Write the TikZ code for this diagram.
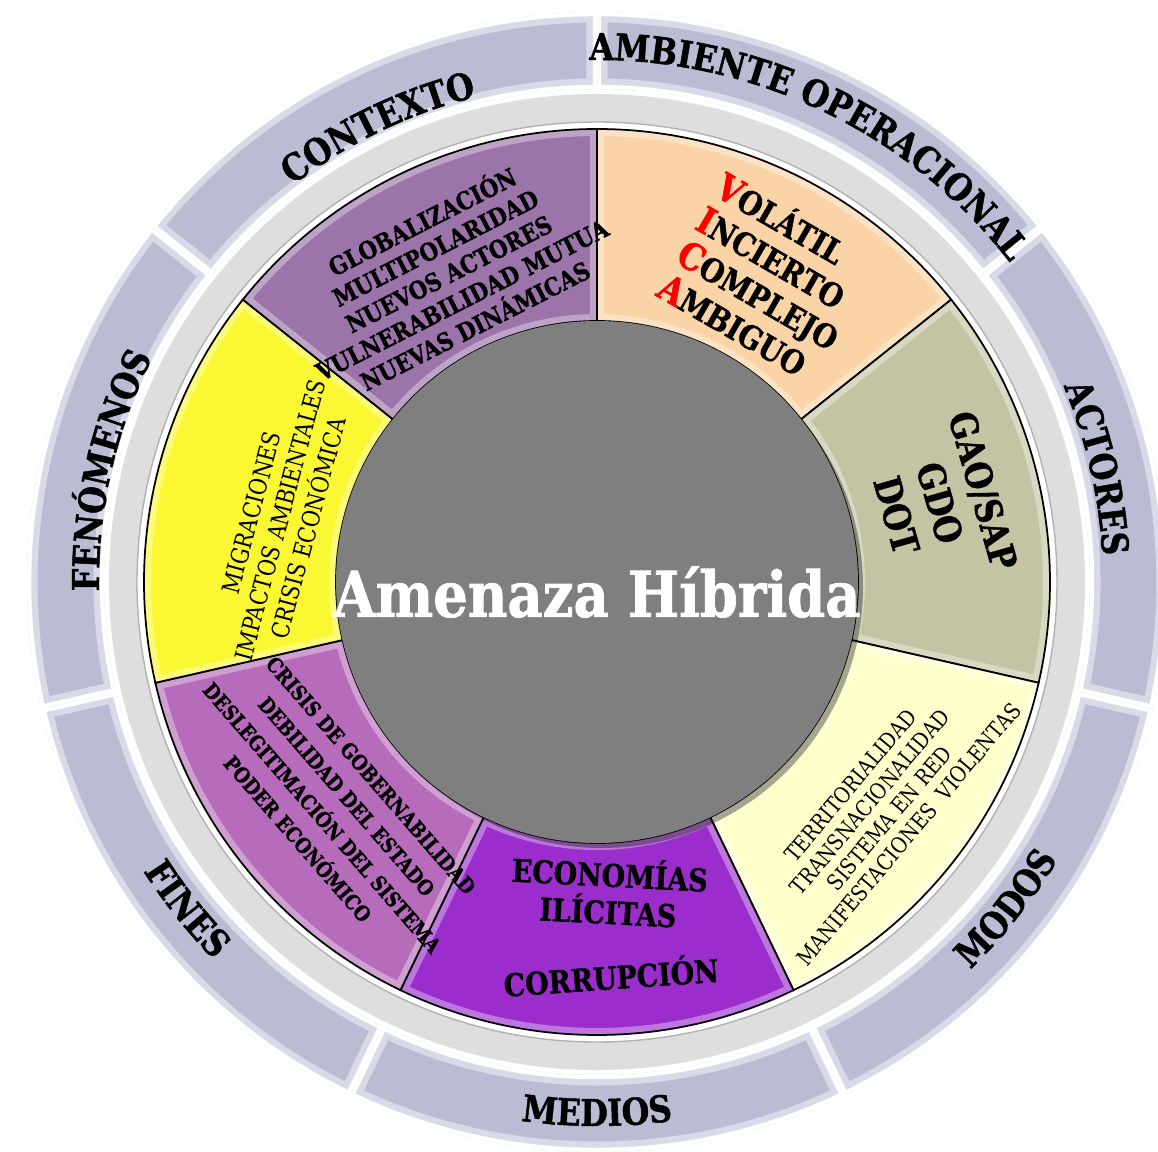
\documentclass[tikz,border=0pt]{standalone}
\usepackage{fontspec}
\usetikzlibrary{decorations.text}
\newfontfamily\slab{DejaVu Serif}[FakeStretch=0.86, BoldFeatures={FakeBold=1.2}]
\newcommand{\bandfont}{\slab\bfseries\fontsize{10.5}{12}\selectfont}
\newcommand{\redcap}[1]{\textcolor{red}{\scalebox{1.15}{#1}}}

\definecolor{ctxcol}{RGB}{155,116,170}
\definecolor{vicacol}{RGB}{250,211,166}
\definecolor{actcol}{RGB}{196,196,164}
\definecolor{modcol}{RGB}{255,255,204}
\definecolor{medcol}{RGB}{155,45,205}
\definecolor{fincol}{RGB}{182,108,186}
\definecolor{fencol}{RGB}{250,248,50}
\definecolor{bandcol}{RGB}{186,188,212}
\definecolor{ringcol}{RGB}{222,222,222}
\definecolor{hubcol}{RGB}{127,127,127}

\tikzset{
  bandsec/.style={fill=bandcol, draw=white, line width=1.8pt},
  segsec/.style={draw=black, line width=0.5pt},
  bandlabel/.style={
    decorate,
    decoration={text along path, text align=center,
      text={|\bandfont|#1}}
  },
  segtext/.style={align=center, inner sep=0pt, font=\slab\bfseries},
  segthin/.style={align=center, inner sep=0pt, font=\slab}
}

\begin{document}
\begin{tikzpicture}
  \def\rhub{2.61}
  \def\rseg{4.53}
  \def\rbandin{4.93}
  \def\rbandout{5.70}
  \useasboundingbox (-5.97,-5.69) rectangle (5.61,5.82);

  % outer band, one sector per heading
  \foreach \k in {0,...,6}{
    \pgfmathsetmacro\a{90-\k*360/7}
    \pgfmathsetmacro\b{90-(\k+1)*360/7}
    \draw[bandsec] (\a:\rbandin) arc[start angle=\a, end angle=\b, radius=\rbandin]
      -- (\b:\rbandout) arc[start angle=\b, end angle=\a, radius=\rbandout] -- cycle;
    \begin{scope}
      \clip (\a:\rbandin) arc[start angle=\a, end angle=\b, radius=\rbandin]
        -- (\b:\rbandout) arc[start angle=\b, end angle=\a, radius=\rbandout] -- cycle;
      \draw[bandcol!55!white, line width=6pt] (\a:\rbandin) arc[start angle=\a, end angle=\b, radius=\rbandin]
        -- (\b:\rbandout) arc[start angle=\b, end angle=\a, radius=\rbandout] -- cycle;
      \draw[white, line width=2.4pt] (\a:\rbandin) arc[start angle=\a, end angle=\b, radius=\rbandin]
        -- (\b:\rbandout) arc[start angle=\b, end angle=\a, radius=\rbandout] -- cycle;
    \end{scope}
  }

  % grey ring
  \fill[white] (0,0) circle (4.92);
  \fill[ringcol, even odd rule] (0,0) circle (4.88) circle (4.60);
  \draw[gray!60, line width=0.4pt] (0,0) circle (4.60);

  % inner segments
  \foreach \col [count=\k from 0] in {vicacol,actcol,modcol,medcol,fincol,fencol,ctxcol}{
    \pgfmathsetmacro\a{90-\k*360/7}
    \pgfmathsetmacro\b{90-(\k+1)*360/7}
    \fill[\col] (\a:\rhub) arc[start angle=\a, end angle=\b, radius=\rhub]
      -- (\b:\rseg) arc[start angle=\b, end angle=\a, radius=\rseg] -- cycle;
    \begin{scope}
      \clip (\a:\rhub) arc[start angle=\a, end angle=\b, radius=\rhub]
        -- (\b:\rseg) arc[start angle=\b, end angle=\a, radius=\rseg] -- cycle;
      \draw[white, opacity=.35, line width=4pt] (\a:\rhub) arc[start angle=\a, end angle=\b, radius=\rhub]
        -- (\b:\rseg) arc[start angle=\b, end angle=\a, radius=\rseg] -- cycle;
    \end{scope}
    \draw[segsec] (\a:\rhub) arc[start angle=\a, end angle=\b, radius=\rhub]
      -- (\b:\rseg) arc[start angle=\b, end angle=\a, radius=\rseg] -- cycle;
  }

  % hub
  \fill[black, opacity=.35] (0.05,-0.05) circle (\rhub);
  \fill[hubcol] (0,0) circle (\rhub);
  \node[font=\slab\bfseries\fontsize{18}{20}\selectfont, text=white] (hub) at (0,-0.10) {Amenaza Híbrida};

  % band headings
  \path[bandlabel=CONTEXTO] (155.71:5.00) arc[start angle=155.71, end angle=75.71, radius=5.00];
  \path[bandlabel=AMBIENTE OPERACIONAL] (124.29:5.22) arc[start angle=124.29, end angle=4.29, radius=5.22];
  \path[bandlabel=ACTORES] (52.86:5.06) arc[start angle=52.86, end angle=-27.14, radius=5.06];
  \path[bandlabel=FENÓMENOS] (207.14:4.98) arc[start angle=207.14, end angle=127.14, radius=4.98];
  \path[bandlabel=MODOS] (-78.57:5.38) arc[start angle=-78.57, end angle=1.43, radius=5.38];
  \path[bandlabel=MEDIOS] (-130:5.44) arc[start angle=-130, end angle=-50, radius=5.44];
  \path[bandlabel=FINES] (-181.43:5.38) arc[start angle=-181.43, end angle=-101.43, radius=5.38];

  % segment texts
  \node[segtext, rotate=27, font=\slab\bfseries\fontsize{7}{8.3}\selectfont] (ctx) at (115.7:3.44)
    {GLOBALIZACIÓN\\MULTIPOLARIDAD\\NUEVOS ACTORES\\VULNERABILIDAD MUTUA\\NUEVAS DINÁMICAS};
  \node[segtext, align=left, rotate=-30, font=\slab\bfseries\fontsize{9.2}{11}\selectfont] (vica) at (60.6:3.50)
    {\redcap{V}OLÁTIL\\\redcap{I}NCIERTO\\\redcap{C}OMPLEJO\\\redcap{A}MBIGUO};
  \node[segtext, rotate=-74, font=\slab\bfseries\fontsize{10.5}{12.8}\selectfont] (act) at (13:3.52)
    {GAO/SAP\\GDO\\DOT};
  \node[segthin, rotate=50, font=\slab\fontsize{6.3}{7.2}\selectfont] (mod) at (-38.9:3.63)
    {TERRITORIALIDAD\\TRANSNACIONALIDAD\\SISTEMA EN RED\\MANIFESTACIONES\ \ VIOLENTAS};
  \node[segtext, rotate=-3, font=\slab\bfseries\fontsize{8.9}{10.6}\selectfont] (eco) at (0.12,-3.09)
    {ECONOMÍAS\\ILÍCITAS};
  \node[segtext, rotate=4, font=\slab\bfseries\fontsize{8.9}{10.6}\selectfont] (cor) at (0.14,-3.93)
    {CORRUPCIÓN};
  \node[segtext, rotate=-49, font=\slab\bfseries\fontsize{5.9}{9.2}\selectfont] (fin) at (-139.4:3.46)
    {CRISIS DE GOBERNABILIDAD\\DEBILIDAD DEL ESTADO\\DESLEGITIMACIÓN DEL SISTEMA\\PODER ECONÓMICO};
  \node[segthin, rotate=75, font=\slab\fontsize{6.9}{8.4}\selectfont] (fen) at (169:3.23)
    {MIGRACIONES\\IMPACTOS AMBIENTALES\\CRISIS ECONÓMICA};
\end{tikzpicture}
\end{document}
